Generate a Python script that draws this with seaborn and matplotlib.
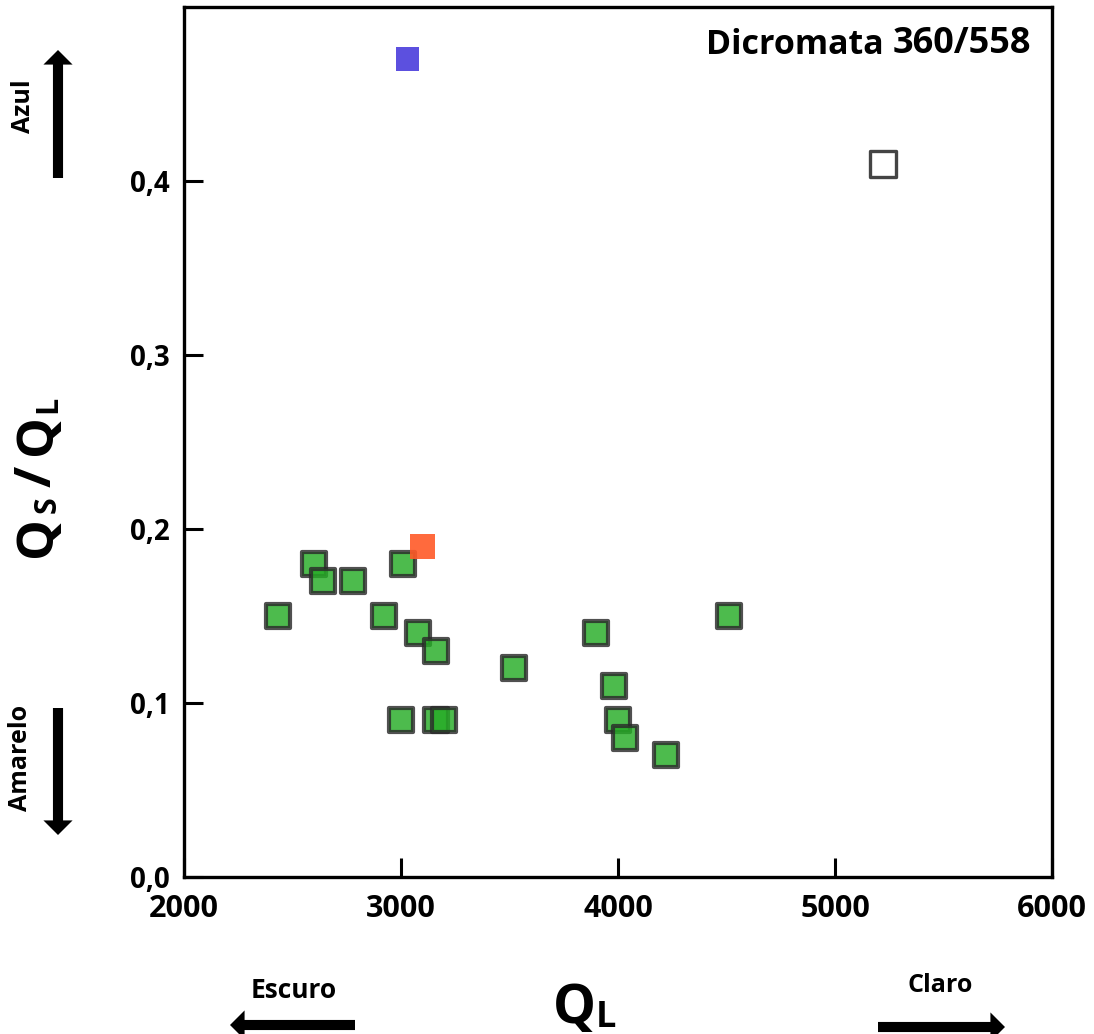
import matplotlib
matplotlib.use("Agg")
import matplotlib.pyplot as plt
import seaborn as sns
import pandas as pd

# ---- data ----
green_ql = [2435, 2600, 2640, 2780, 2920, 3010, 3080, 3160, 3000, 3160, 3200,
            3520, 3900, 3980, 4000, 4030, 4220, 4510]
green_ratio = [0.15, 0.18, 0.17, 0.17, 0.15, 0.18, 0.14, 0.13, 0.09, 0.09, 0.09,
               0.12, 0.14, 0.11, 0.09, 0.08, 0.07, 0.15]
blue_ql = [3030]
blue_ratio = [0.47]
orange_ql = [3100]
orange_ratio = [0.19]
white_ql = [5220]
white_ratio = [0.41]

x_ticks = [2000, 3000, 4000, 5000, 6000]
x_tick_labels = ["2000", "3000", "4000", "5000", "6000"]
y_ticks = [0.0, 0.1, 0.2, 0.3, 0.4]
y_tick_labels = ["0,0", "0,1", "0,2", "0,3", "0,4"]

sns.set_theme(style="white")
plt.rcParams["font.family"] = ["Open Sans", "DejaVu Sans"]

W, H = 1094, 1034
fig = plt.figure(figsize=(W / 100, H / 100), dpi=100)
ax = fig.add_axes([184 / W, 1 - 877 / H, (1052 - 184) / W, (877 - 7) / H])

green = pd.DataFrame({"QL": green_ql, "ratio": green_ratio})
sns.scatterplot(data=green, x="QL", y="ratio", ax=ax, marker="s", s=290,
                color="#26ac26", edgecolor="#2a2a2a", linewidth=3, alpha=0.82, zorder=3)
sns.scatterplot(x=orange_ql, y=orange_ratio, ax=ax, marker="s", s=330,
                color="#ff5a28", edgecolor="none", linewidth=0, alpha=0.9, zorder=4)
sns.scatterplot(x=blue_ql, y=blue_ratio, ax=ax, marker="s", s=290,
                color="#4a3ddc", edgecolor="none", linewidth=0, alpha=0.9, zorder=4)
sns.scatterplot(x=white_ql, y=white_ratio, ax=ax, marker="s", s=330,
                color="white", edgecolor="#444444", linewidth=2.4, zorder=4)

ax.set_xlim(2000, 6000)
ax.set_ylim(0, 0.5)
ax.set_xticks(x_ticks)
ax.set_xticklabels(x_tick_labels)
ax.set_yticks(y_ticks)
ax.set_yticklabels(y_tick_labels)
ax.set_xlabel("")
ax.set_ylabel("")
for sp in ax.spines.values():
    sp.set_visible(True)
    sp.set_color("black")
    sp.set_linewidth(2.4)
ax.tick_params(axis="both", direction="in", length=14, width=2.2, color="black",
               bottom=True, left=True)
ax.tick_params(axis="x", labelsize=22, pad=12)
ax.tick_params(axis="y", labelsize=20, pad=10)
for lab in ax.get_xticklabels() + ax.get_yticklabels():
    lab.set_fontweight("bold")
    lab.set_color("black")

# title-like annotation
t_num = ax.text(1031 / W, 1 - 53 / H, "360/558", transform=fig.transFigure,
                ha="right", va="baseline", fontsize=26, fontweight="bold", color="black")
ax.annotate("Dicromata ", xy=(0, 0), xycoords=t_num, ha="right", va="bottom",
            fontsize=24.5, fontweight="bold", color="black")

# y label  Qs / QL  (pieces placed along the left margin)
ylab_pieces = [("Q", 37, 557), ("S", 22, 513), ("/", 37, 487), ("Q", 37, 455), ("L", 22, 413)]
for txt, fs, ybot in ylab_pieces:
    fig.text(63 / W, 1 - ybot / H, txt, rotation=90, ha="right", va="bottom",
             fontsize=fs, fontweight="bold", color="black")

# x label  QL
tx1 = fig.text(553 / W, 1 - 1036 / H, "Q", ha="left", va="bottom",
               fontsize=39, fontweight="bold", color="black")
ax.annotate("L", xy=(1, 0), xycoords=tx1, ha="left", va="bottom",
            fontsize=26, fontweight="bold", color="black")

# side labels and arrows
fig.text(23 / W, 1 - 106 / H, "Azul", rotation=90, ha="center", va="center",
         fontsize=18, fontweight="bold", color="black")
fig.text(21 / W, 1 - 758 / H, "Amarelo", rotation=90, ha="center", va="center",
         fontsize=18, fontweight="bold", color="black")
fig.text(294 / W, 1 - 990 / H, "Escuro", ha="center", va="center",
         fontsize=19, fontweight="bold", color="black")
fig.text(940 / W, 1 - 985 / H, "Claro", ha="center", va="center",
         fontsize=18, fontweight="bold", color="black")

arrow_style = "simple,head_length=0.75,head_width=1.5,tail_width=0.52"
def fig_arrow(x0, y0, x1, y1):
    ax.annotate("", xy=(x1, H - y1), xycoords="figure pixels",
                xytext=(x0, H - y0), textcoords="figure pixels",
                arrowprops=dict(arrowstyle=arrow_style, mutation_scale=14,
                                color="black", lw=0, shrinkA=0, shrinkB=0))

fig_arrow(58, 178, 58, 50)
fig_arrow(58, 708, 58, 835)
fig_arrow(355, 1025, 230, 1025)
fig_arrow(878, 1027, 1005, 1027)

fig.savefig("out.png", dpi=100, facecolor="white")
